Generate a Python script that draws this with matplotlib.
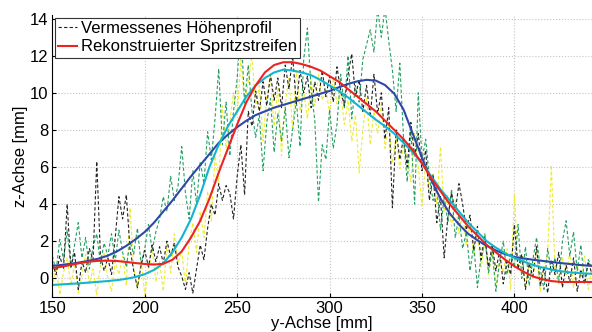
import matplotlib
matplotlib.use("Agg")
import matplotlib.pyplot as plt
import numpy as np

plt.rcParams['font.family'] = ['Liberation Sans', 'DejaVu Sans']
plt.rcParams['font.size'] = 12

# measured profiles, sampled every 2 mm from 150 to 442
y_meas = np.arange(150, 443, 2)

z_black = [
    0.8, 0.2, 1.2, 0.5, 4.0, 0.6, 1.4, -0.6, 0.9, 0.3,
    1.6, 1.0, 6.3, 1.2, 0.4, 1.1, 0.2, 2.2, 4.4, 3.2,
    4.5, 1.6, 0.4, -0.5, 0.7, 1.5, 0.6, 1.8, 0.9, 1.7,
    0.8, 2.0, 1.2, 1.9, 0.6, 0.1, -0.6, 0.3, -0.8, 0.5,
    1.8, 1.0, 2.7, 4.0, 3.4, 5.1, 4.2, 5.0, 4.6, 3.2,
    5.5, 7.2, 4.5, 9.0, 8.2, 10.1, 9.0, 10.6, 9.3, 11.0,
    9.6, 10.8, 9.2, 11.5, 10.2, 12.0, 9.4, 11.2, 10.0, 10.9,
    9.2, 10.6, 9.6, 11.2, 9.8, 10.9, 9.5, 11.4, 10.1, 9.3,
    11.0, 12.1, 9.8, 10.7, 9.0, 10.4, 8.7, 11.0, 8.9, 10.0,
    7.5, 9.2, 3.8, 8.0, 6.4, 7.6, 6.0, 8.4, 6.6, 7.8,
    5.8, 6.9, 4.2, 5.6, 3.0, 4.4, 1.1, 3.3, 4.6, 3.6,
    5.1, 4.0, 2.6, 3.4, 1.5, 2.8, 1.0, 2.2, 0.6, 1.8,
    0.4, 1.5, -0.3, 0.9, 0.2, 2.9, 0.5, 1.3, -0.6, 0.8,
    0.1, 1.7, -0.4, 0.6, -0.8, 1.0, 0.2, 1.4, -0.5, 0.7,
    -0.2, 1.1, -0.7, 0.4, -0.3, 0.9, 0.2]

z_yellow = [
    -0.5, 0.6, -0.9, 0.3, 1.1, -0.4, 0.8, -0.8, 0.2, 1.3,
    -0.3, 0.5, -0.9, 0.7, 1.4, 0.0, -0.7, 0.9, 0.2, 1.2,
    -0.4, 3.8, 0.6, -0.6, 1.0, -0.9, 0.4, 1.6, -0.2, 0.9,
    -0.7, 1.8, 0.3, 2.4, 0.8, 1.5, -0.4, 1.9, 3.0, 1.4,
    3.6, 2.2, 4.7, 3.1, 6.6, 5.2, 9.3, 7.0, 8.4, 10.0,
    8.8, 11.8, 9.4, 10.6, 12.0, 9.2, 10.4, 7.4, 9.8, 11.0,
    8.2, 10.3, 6.6, 9.4, 10.8, 8.0, 11.2, 9.0, 10.1, 8.6,
    10.7, 9.3, 11.0, 9.6, 10.2, 8.9, 10.8, 9.4, 10.0, 8.3,
    9.6, 7.4, 8.8, 5.7, 8.0, 9.7, 7.2, 9.0, 7.8, 9.4,
    7.0, 8.3, 6.2, 7.6, 5.9, 7.2, 6.5, 5.2, 7.8, 6.0,
    3.9, 6.3, 4.8, 5.6, 4.0, 7.1, 3.6, 4.5, 2.8, 4.2,
    2.4, 3.5, 1.8, 3.0, 1.2, 2.5, 0.6, 1.9, 0.2, 1.4,
    -0.4, 1.0, 0.3, 1.6, -0.6, 4.5, 0.7, 1.2, -0.5, 0.9,
    0.0, 1.5, -0.7, 0.6, 1.3, 6.1, 0.4, -0.3, 1.1, 0.2,
    1.4, -0.5, 0.8, 0.1, 1.2, -0.6, 0.5]

z_green = [
    1.2, 0.4, 2.1, 1.0, 2.6, 0.6, 1.8, 3.0, 1.1, 2.2,
    0.5, 1.7, 2.4, 0.8, 1.9, 1.2, 2.4, 0.9, 2.6, 1.4,
    0.6, 2.0, 1.3, 2.7, 0.8, 1.6, 2.9, 1.5, 2.5, 3.2,
    4.4, 3.6, 5.5, 4.2, 5.0, 7.1, 4.6, 3.2, 5.8, 4.0,
    6.3, 5.1, 7.9, 6.4, 8.6, 11.3, 7.2, 9.5, 6.6, 9.0,
    10.8, 13.7, 9.4, 11.5, 9.0, 7.6, 8.8, 5.8, 8.4, 9.7,
    6.8, 8.9, 7.4, 9.2, 6.5, 8.0, 9.6, 7.1, 11.8, 13.5,
    10.2, 8.5, 4.1, 7.2, 6.4, 9.1, 7.0, 8.3, 11.0, 9.2,
    12.0, 8.6, 10.4, 9.5, 11.8, 12.6, 13.4, 12.2, 14.5, 13.0,
    14.6, 12.8, 11.2, 9.0, 11.6, 7.6, 5.2, 8.0, 4.0, 10.0,
    6.4, 7.5, 5.4, 4.2, 5.0, 2.6, 4.4, 3.0, 4.8, 2.2,
    3.4, 1.6, 2.5, 0.4, 1.8, -0.5, 1.2, 2.4, 0.3, 1.5,
    -0.7, 0.9, 2.0, 0.2, 1.3, 0.6, 2.9, 0.0, 1.7, -0.4,
    1.0, 2.2, 0.5, -0.6, 1.6, 0.3, 1.1, -0.2, 2.0, 3.1,
    1.2, 2.5, 0.4, 1.8, -0.3, 1.0, 0.6]

# reconstructed profiles, every 5 mm from 150 to 445
y_fit = np.arange(150, 446, 5)

z_red = [
    0.55, 0.62, 0.72, 0.82, 0.90, 0.94, 0.95, 0.93, 0.88, 0.82,
    0.77, 0.74, 0.78, 1.0, 1.45, 2.2, 3.1, 4.3, 5.7, 7.0,
    8.3, 9.5, 10.4, 11.1, 11.5, 11.65, 11.65, 11.55, 11.4, 11.2,
    10.9, 10.6, 10.2, 9.8, 9.4, 9.0, 8.5, 8.0, 7.5, 6.9,
    6.2, 5.4, 4.7, 4.0, 3.4, 2.8, 2.3, 1.8, 1.4, 1.0,
    0.65, 0.35, 0.1, -0.05, -0.15, -0.2, -0.2, -0.2, -0.2, -0.2]

z_cyan = [
    -0.36, -0.33, -0.30, -0.27, -0.23, -0.19, -0.15, -0.10, -0.03, 0.07,
    0.22, 0.45, 0.8, 1.4, 2.2, 3.2, 4.5, 6.0, 7.2, 8.2,
    9.0, 9.8, 10.4, 10.8, 11.1, 11.25, 11.2, 11.1, 10.95, 10.7,
    10.4, 10.1, 9.75, 9.35, 8.95, 8.55, 8.2, 7.8, 7.3, 6.8,
    6.2, 5.5, 4.8, 4.2, 3.6, 3.0, 2.5, 2.0, 1.65, 1.35,
    1.1, 0.9, 0.72, 0.58, 0.47, 0.38, 0.32, 0.28, 0.25, 0.24]

z_blue = [
    0.67, 0.72, 0.78, 0.86, 0.95, 1.06, 1.22, 1.45, 1.75, 2.1,
    2.5, 3.0, 3.6, 4.2, 4.85, 5.5, 6.1, 6.7, 7.3, 7.75,
    8.15, 8.5, 8.8, 9.0, 9.2, 9.35, 9.5, 9.65, 9.8, 9.95,
    10.1, 10.3, 10.48, 10.62, 10.7, 10.66, 10.42, 9.95, 9.1, 7.8,
    6.5, 5.3, 4.3, 3.5, 2.9, 2.4, 2.05, 1.75, 1.5, 1.3,
    1.15, 1.07, 1.0, 0.94, 0.88, 0.82, 0.77, 0.72, 0.68, 0.66]

fig = plt.figure(figsize=(5.92, 3.32), dpi=100)
ax = fig.add_axes([0.0885, 0.106, 0.9115, 0.849])

dash = (0, (3, 2))
ax.plot(y_meas, z_yellow, color='#ecec30', lw=0.8, linestyle=dash)
ax.plot(y_meas, z_green, color='#22a060', lw=0.8, linestyle=dash)
l_meas, = ax.plot(y_meas, z_black, color='#222222', lw=0.8, linestyle=dash)
ax.plot(y_fit, z_blue, color='#2d48a8', lw=1.5)
ax.plot(y_fit, z_cyan, color='#12b4d2', lw=1.5)
l_fit, = ax.plot(y_fit, z_red, color='#ee2222', lw=1.5)

ax.set_xlim(150, 442)
ax.set_ylim(-1, 14.2)
ax.set_xticks([150, 200, 250, 300, 350, 400])
ax.set_yticks([0, 2, 4, 6, 8, 10, 12, 14])
ax.grid(True, color='#c4c4c4', linestyle=':', lw=0.8)
ax.tick_params(direction='in', length=3, pad=3)
ax.spines['top'].set_visible(False)
ax.spines['right'].set_visible(False)

ax.set_xlabel('y-Achse [mm]', labelpad=0)
ax.set_ylabel('z-Achse [mm]', labelpad=1)

leg = ax.legend([l_meas, l_fit], ['Vermessenes Höhenprofil', 'Rekonstruierter Spritzstreifen'],
                loc='upper left', bbox_to_anchor=(0.005, 0.99), fancybox=False,
                framealpha=1, edgecolor='#333333', handlelength=1.1,
                handletextpad=0.25, labelspacing=0.2, borderpad=0.2,
                borderaxespad=0)
leg.get_frame().set_linewidth(0.8)

fig.savefig('out.png', dpi=100)
